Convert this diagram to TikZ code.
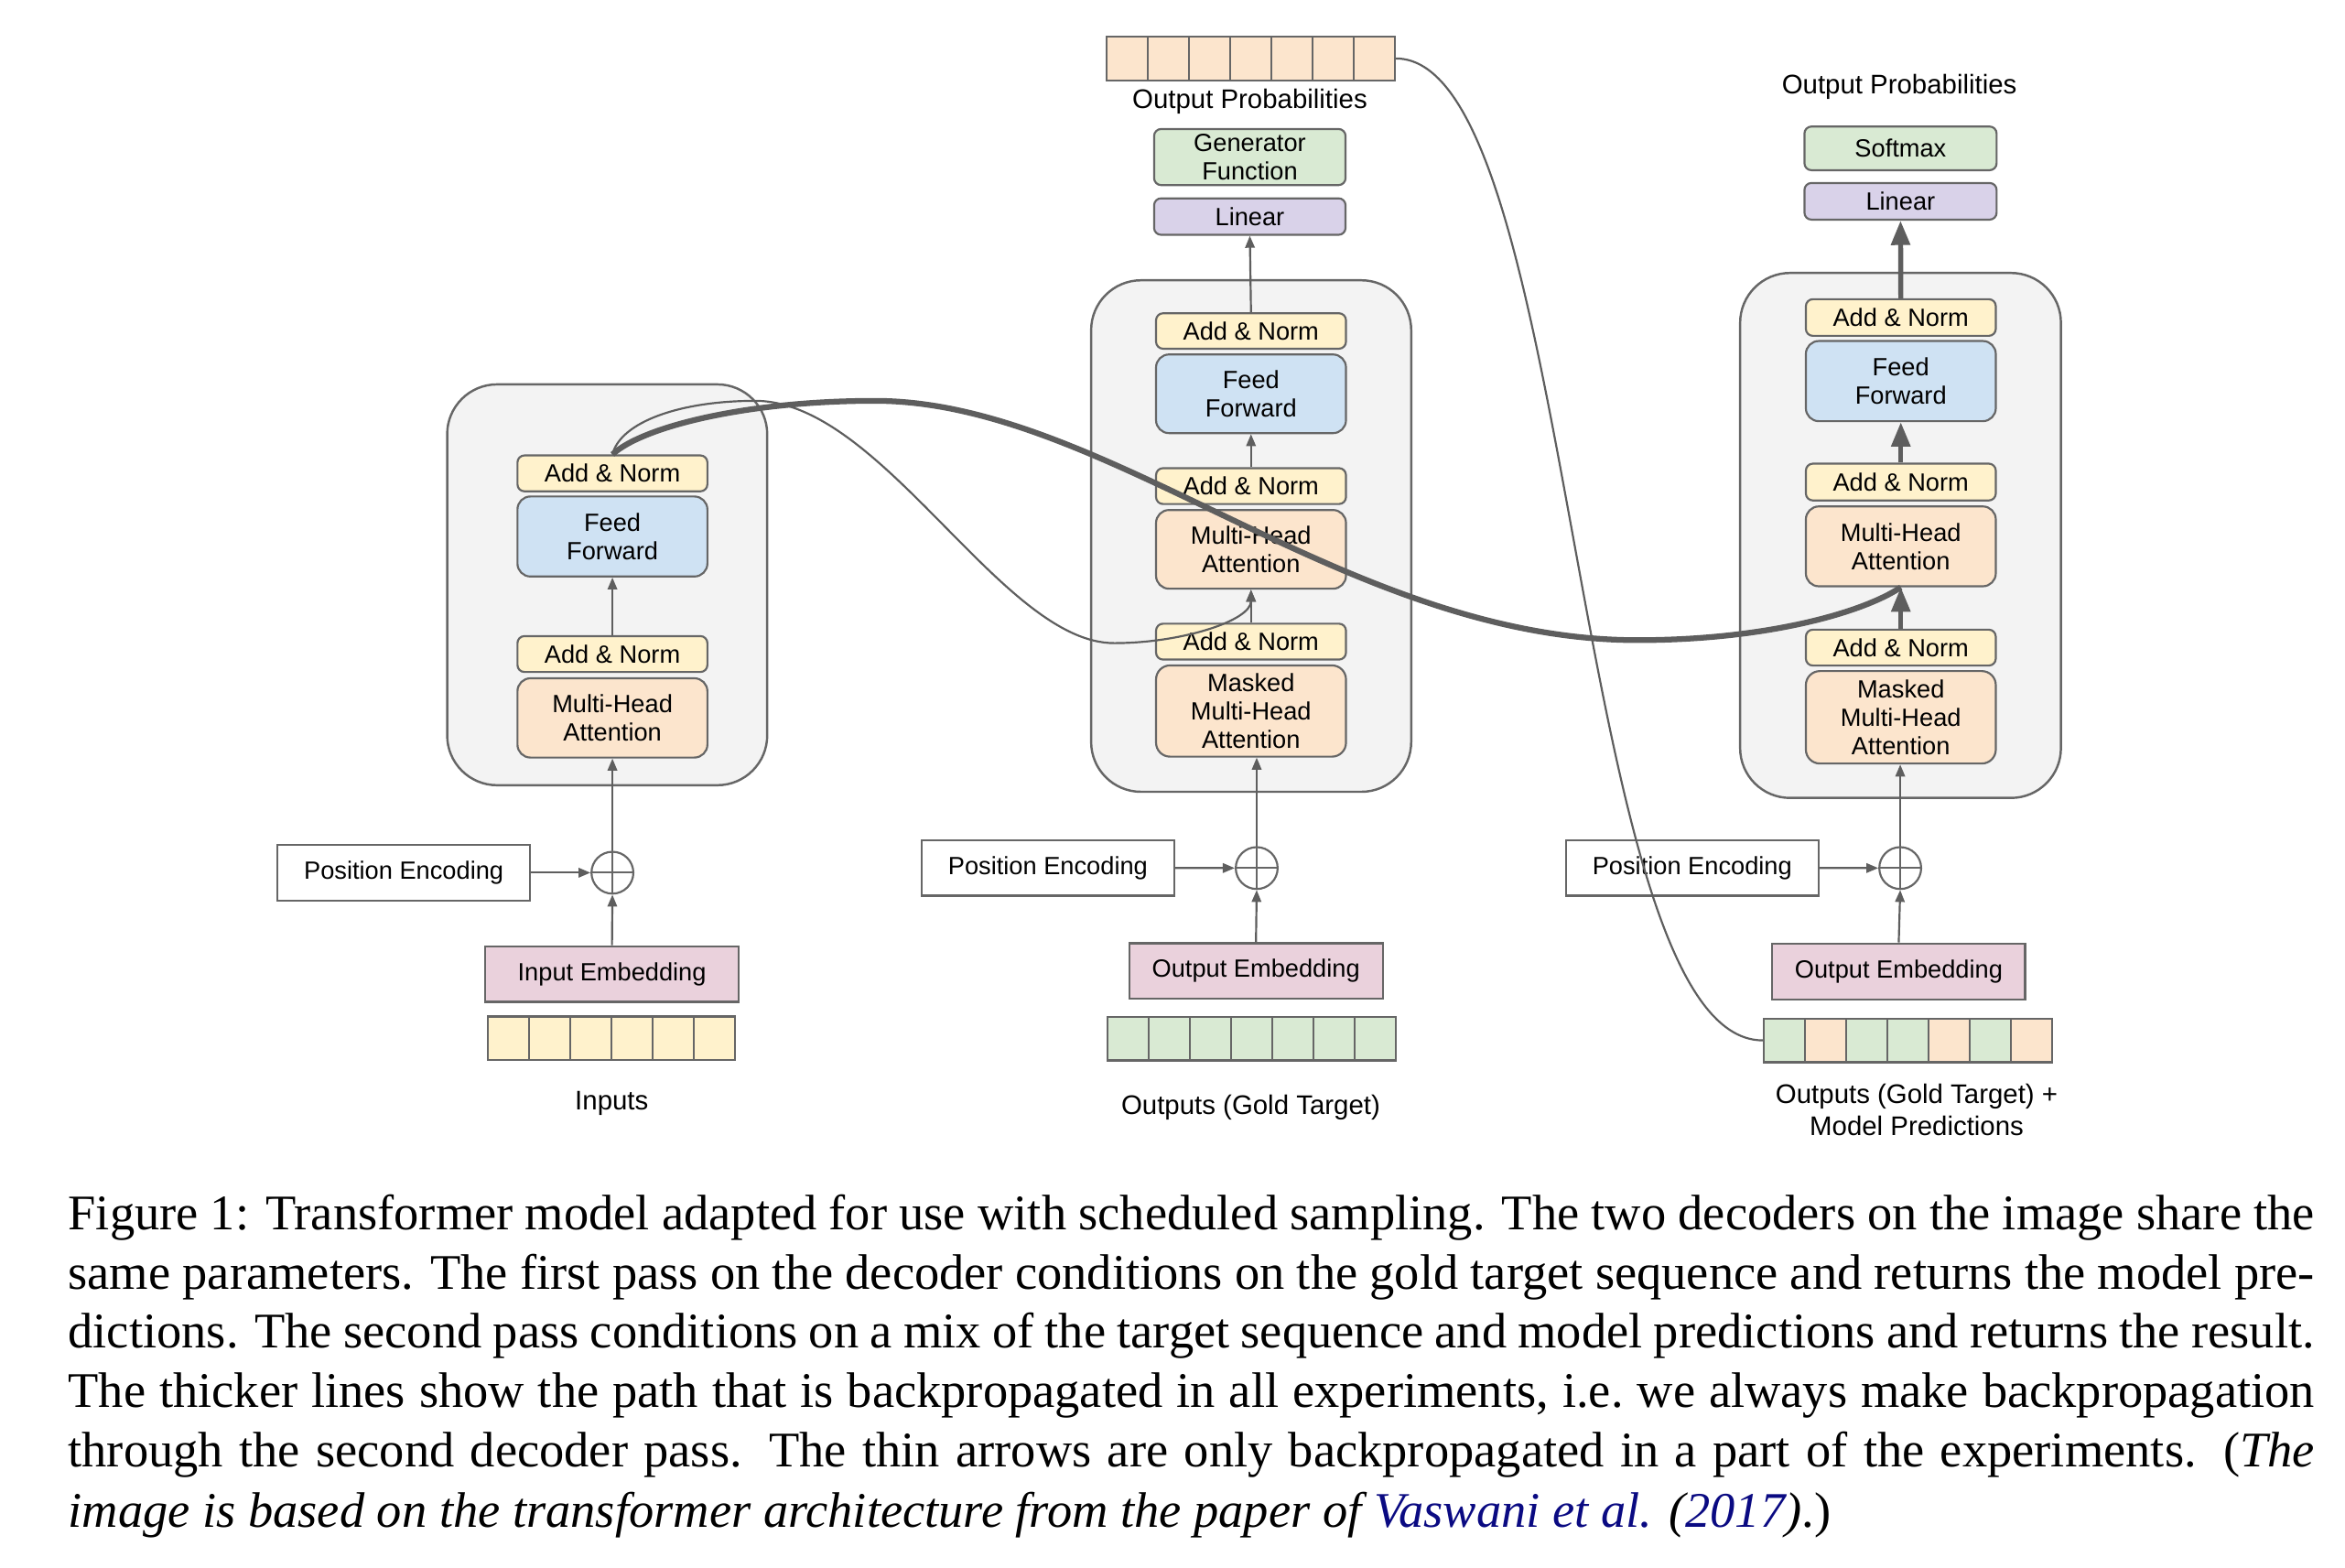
\documentclass[tikz,border=0pt]{standalone}
\usepackage{fontspec}
\setmainfont{Liberation Serif}
\newfontfamily\diagfont{Liberation Sans}
\usetikzlibrary{arrows.meta}
\definecolor{cYellow}{HTML}{FFF2CC}
\definecolor{cBlue}{HTML}{CFE2F3}
\definecolor{cOrange}{HTML}{FCE5CD}
\definecolor{cGreen}{HTML}{D9EAD3}
\definecolor{cPurple}{HTML}{D9D2E9}
\definecolor{cPink}{HTML}{EAD1DC}
\definecolor{cGray}{HTML}{F3F3F3}
\definecolor{cBorder}{HTML}{666666}
\definecolor{cLine}{HTML}{5E5E5E}
\definecolor{citeblue}{HTML}{0A0A82}
\newcommand\pxu{0.3pt}
\tikzset{
  blk/.style={draw=cBorder, line width=0.4pt, inner sep=0pt, minimum width=127*\pxu,
    font=\diagfont\fontsize{5}{5.7}\selectfont, align=center, rounded corners=1.4pt},
  addnorm/.style={blk, fill=cYellow, minimum height=24*\pxu},
  ffbox/.style={blk, fill=cBlue, minimum height=53*\pxu, rounded corners=2.6pt},
  attbox/.style={blk, fill=cOrange, minimum height=53*\pxu, rounded corners=2.6pt},
  maskbox/.style={blk, fill=cOrange, minimum height=61*\pxu, rounded corners=2.8pt},
  linbox/.style={blk, fill=cPurple, minimum height=24.4*\pxu, minimum width=128*\pxu},
  genbox/.style={blk, fill=cGreen, minimum width=128*\pxu},
  container/.style={draw=cBorder, fill=cGray, line width=0.45pt, rounded corners=10pt, inner sep=0pt},
  plainbox/.style={draw=cBorder, line width=0.4pt, inner sep=0pt, minimum width=169*\pxu,
    minimum height=37.2*\pxu, font=\diagfont\fontsize{5}{5.7}\selectfont, fill=white},
  embbox/.style={plainbox, fill=cPink},
  cell/.style={draw=cBorder, line width=0.4pt, minimum width=27.55*\pxu, minimum height=29.2*\pxu, inner sep=0pt},
  lbl/.style={font=\diagfont\fontsize{5.4}{6.45}\selectfont, inner sep=0pt, align=center},
  thinline/.style={draw=cLine, line width=0.4pt},
  thinarrow/.style={thinline, -{Triangle[length=2.4pt, width=1.9pt]}},
  thickline/.style={draw=cLine, line width=1.15pt},
  thickarrow/.style={draw=cLine, line width=1pt, -{Triangle[length=4.9pt, width=3.7pt]}},
  plusnode/.style={circle, draw=cBorder, line width=0.4pt, minimum size=28*\pxu, inner sep=0pt, fill=white},
  caplinestyle/.style={anchor=base west, inner sep=0pt, font=\fontsize{10}{12}\selectfont},
}
\begin{document}
\begin{tikzpicture}[x=\pxu, y=-\pxu]
\useasboundingbox (0,0) rectangle (1568,1048);

% ---------------- containers ----------------
\node[container, minimum width=214*\pxu, minimum height=268*\pxu] (encC) at (406,391) {};
\node[container, minimum width=214*\pxu, minimum height=342*\pxu] (mC) at (836.6,358.4) {};
\node[container, minimum width=214.5*\pxu, minimum height=351*\pxu] (rC) at (1270.8,358) {};

% ---------------- encoder ----------------
\node[addnorm] (encAN2) at (409.5,316.5) {Add \& Norm};
\node[ffbox, minimum height=53.5*\pxu] (encFF) at (409.5,358.7) {Feed\\Forward};
\node[addnorm] (encAN1) at (409.5,437.3) {Add \& Norm};
\node[attbox] (encMHA) at (409.5,480) {Multi-Head\\Attention};
\node[plainbox] (encPE) at (270,583.5) {Position Encoding};
\node[plusnode] (encPlus) at (409.5,583.5) {};
\draw[draw=cBorder, line width=0.4pt] (encPlus.north) -- (encPlus.south) (encPlus.west) -- (encPlus.east);
\node[embbox, minimum width=169.5*\pxu] (encEmb) at (409.2,651.3) {Input Embedding};
\foreach \i in {1,...,6}
  \node[cell, fill=cYellow] (encIn\i) at ({326.4+27.55*(\i-0.5)},694.2) {};
\node[lbl] (encLbl) at (409,737.5) {Inputs};

% ---------------- middle decoder ----------------
\foreach \i in {1,...,7}
  \node[cell, fill=cOrange] (mOut\i) at ({740+27.53*(\i-0.5)},39.1) {};
\node[lbl] (mProb) at (835.7,67.8) {Output Probabilities};
\node[genbox, minimum height=37.5*\pxu] (mGen) at (835.7,105) {Generator\\Function};
\node[linbox] (mLin) at (835.7,144.8) {Linear};
\node[addnorm, minimum height=23.7*\pxu] (mAN1) at (836.5,221.3) {Add \& Norm};
\node[ffbox, minimum height=52.6*\pxu] (mFF) at (836.5,263.3) {Feed\\Forward};
\node[addnorm] (mAN2) at (836.5,325) {Add \& Norm};
\node[attbox, minimum height=52.6*\pxu] (mMHA) at (836.5,367.3) {Multi-Head\\Attention};
\node[addnorm] (mAN3) at (836.5,429) {Add \& Norm};
\node[maskbox] (mMask) at (836.5,475.4) {Masked\\Multi-Head\\Attention};
\node[plainbox] (mPE) at (700.7,580.3) {Position Encoding};
\node[plusnode] (mPlus) at (840.3,580.4) {};
\draw[draw=cBorder, line width=0.4pt] (mPlus.north) -- (mPlus.south) (mPlus.west) -- (mPlus.east);
\node[embbox, minimum width=169.6*\pxu] (mEmb) at (839.8,649.3) {Output Embedding};
\foreach \i in {1,...,7}
  \node[cell, fill=cGreen, minimum width=27.6*\pxu] (mIn\i) at ({740.3+27.6*(\i-0.5)},694.4) {};
\node[lbl] (mLbl) at (836.3,740.5) {Outputs (Gold Target)};

% ---------------- right decoder ----------------
\node[lbl] (rProb) at (1270,58) {Output Probabilities};
\node[genbox, minimum height=29.2*\pxu, minimum width=128.5*\pxu] (rSoft) at (1270.8,99.2) {Softmax};
\node[linbox, minimum height=24.5*\pxu, minimum width=128.5*\pxu] (rLin) at (1270.8,134.6) {Linear};
\node[addnorm, minimum height=24.5*\pxu] (rAN1) at (1271,212.3) {Add \& Norm};
\node[ffbox, minimum height=53.6*\pxu] (rFF) at (1271,254.8) {Feed\\Forward};
\node[addnorm, minimum height=24.6*\pxu] (rAN2) at (1271,322.3) {Add \& Norm};
\node[attbox, minimum height=53.4*\pxu] (rMHA) at (1271,365.3) {Multi-Head\\Attention};
\node[addnorm] (rAN3) at (1271,433) {Add \& Norm};
\node[maskbox, minimum height=61.8*\pxu] (rMask) at (1271,479.6) {Masked\\Multi-Head\\Attention};
\node[plainbox] (rPE) at (1131.5,580.3) {Position Encoding};
\node[plusnode] (rPlus) at (1270.6,580.4) {};
\draw[draw=cBorder, line width=0.4pt] (rPlus.north) -- (rPlus.south) (rPlus.west) -- (rPlus.east);
\node[embbox, minimum height=37.7*\pxu] (rEmb) at (1269.6,649.6) {Output Embedding};
\foreach \i/\c in {1/cGreen,2/cOrange,3/cGreen,4/cGreen,5/cOrange,6/cGreen,7/cOrange}
  \node[cell, fill=\c, minimum width=27.56*\pxu] (rIn\i) at ({1179.3+27.56*(\i-0.5)},695.6) {};
\node[lbl] (rLbl) at (1281.6,742) {Outputs (Gold Target) +\\Model Predictions};

% ---------------- straight connectors ----------------
% encoder
\draw[thinarrow] (encEmb.north) -- (encPlus.south);
\draw[thinarrow] (encPE.east) -- (encPlus.west);
\draw[thinarrow] (encPlus.north) -- (encMHA.south);
\draw[thinarrow] (encAN1.north) -- (encFF.south);
% middle decoder
\draw[thinarrow] (mEmb.north) -- (mPlus.south);
\draw[thinarrow] (mPE.east) -- (mPlus.west);
\draw[thinarrow] (mPlus.north) -- (mPlus.north |- mMask.south);
\draw[thinarrow] (mAN3.north) -- (mMHA.south);
\draw[thinarrow] (mAN2.north) -- (mFF.south);
\draw[thinarrow] (mAN1.north) -- (mLin.south);
% right decoder
\draw[thinarrow] (rEmb.north) -- (rPlus.south);
\draw[thinarrow] (rPE.east) -- (rPlus.west);
\draw[thinarrow] (rPlus.north) -- (rPlus.north |- rMask.south);
\draw[thickarrow] (rAN3.north) -- (rMHA.south);
\draw[thickarrow] (rAN2.north) -- (rFF.south);
\draw[thickarrow] (rAN1.north) -- (rLin.south);

% ---------------- curves ----------------
\draw[thinarrow] (encAN2.north) .. controls (415,282) and (455,268) .. (505,268)
  .. controls (590,268) and (670,430) .. (745,430)
  .. controls (790,430) and (836.5,415) .. (mMHA.south);
\draw[thickline] (encAN2.north) .. controls (430,285) and (500,268) .. (585,268)
  .. controls (740,268) and (900,428) .. (1095,428)
  .. controls (1180,428) and (1245,410) .. (rMHA.south);
\draw[thinline] (mOut7.east) .. controls (1055,39) and (1050,695.6) .. (rIn1.west);

% ---------------- caption ----------------
\node[caplinestyle] (cap1) at (45,822) {\makebox[450.6pt][s]{Figure 1: Transformer model adapted for use with scheduled sampling. The two decoders on the image share the}};
\node[caplinestyle] (cap2) at (45,862) {\makebox[450.6pt][s]{same parameters. The first pass on the decoder conditions on the gold target sequence and returns the model pre-}};
\node[caplinestyle] (cap3) at (45,901) {\makebox[450.6pt][s]{dictions. The second pass conditions on a mix of the target sequence and model predictions and returns the result.}};
\node[caplinestyle] (cap4) at (45,941) {\makebox[450.6pt][s]{The thicker lines show the path that is backpropagated in all experiments, i.e.\ we always make backpropagation}};
\node[caplinestyle] (cap5) at (45,981) {\makebox[450.6pt][s]{through the second decoder pass. The thin arrows are only backpropagated in a part of the experiments. (\textit{The}}};
\node[caplinestyle] (cap6) at (45,1021) {\textit{image is based on the transformer architecture from the paper of \textcolor{citeblue}{Vaswani et al.} (\textcolor{citeblue}{2017})}.)};
\end{tikzpicture}
\end{document}
